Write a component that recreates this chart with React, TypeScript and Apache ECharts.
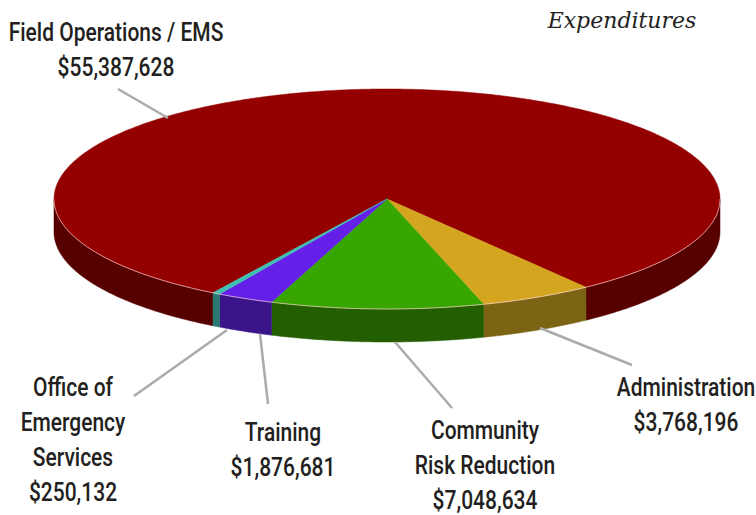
import React, { useEffect, useRef } from 'react';
import * as echarts from 'echarts';

// ---- data ----
const categories = [
  'Field Operations / EMS',
  'Administration',
  'Community Risk Reduction',
  'Training',
  'Office of Emergency Services',
];
const values = [55387628, 3768196, 7048634, 1876681, 250132];
const labelNameLines = [
  ['Field Operations / EMS'],
  ['Administration'],
  ['Community', 'Risk Reduction'],
  ['Training'],
  ['Office of', 'Emergency', 'Services'],
];
const titleText = 'Expenditures';

// ---- styles / layout ----
const topColors = ['#940000', '#D4A620', '#38A600', '#6420E8', '#3EC0B2'];
const sideColors = ['#560000', '#7C6414', '#235E00', '#3A1488', '#2A7A72'];
const CX = 387;
const CY = 199;
const RX = 333;
const RY = 110;
const DEPTH = 33;
const START_DEG = 121.5; // screen angle (clockwise) where the first slice starts
const labelPos = [
  { x: 116, y: 33 },
  { x: 686, y: 388 },
  { x: 485, y: 431 },
  { x: 283, y: 433 },
  { x: 73, y: 388 },
];
const leaderLines = [
  [118, 89, 168, 118],
  [540, 328, 632, 365],
  [395, 342, 452, 408],
  [260, 334, 268, 404],
  [227, 330, 134, 396],
];
const LINE_H = 35;

const fmt = (v: number) => '$' + v.toLocaleString('en-US');

function pt(deg: number, dy = 0): number[] {
  const r = (deg * Math.PI) / 180;
  return [CX + RX * Math.cos(r), CY + RY * Math.sin(r) + dy];
}

function arc(a0: number, a1: number, dy = 0): number[][] {
  const pts: number[][] = [];
  const n = Math.max(2, Math.ceil(Math.abs(a1 - a0) / 0.5));
  for (let k = 0; k <= n; k++) pts.push(pt(a0 + ((a1 - a0) * k) / n, dy));
  return pts;
}

export default function App() {
  const ref = useRef<HTMLDivElement>(null);
  useEffect(() => {
    document.body.style.margin = '0';
    if (!ref.current) return;
    const chart = echarts.init(ref.current, undefined, { renderer: 'svg' });
    const total = values.reduce((a, b) => a + b, 0);

    const graphics: any[] = [];
    graphics.push({
      type: 'text',
      x: 622,
      y: 20,
      style: {
        text: titleText,
        font: 'italic 22px "DejaVu Serif", serif',
        fill: '#222',
        textAlign: 'center',
        textVerticalAlign: 'middle',
      },
    });
    leaderLines.forEach((l) => {
      graphics.push({
        type: 'line',
        shape: { x1: l[0], y1: l[1], x2: l[2], y2: l[3] },
        style: { stroke: '#ABABAB', lineWidth: 2.5 },
        z: 10,
      });
    });
    values.forEach((v, i) => {
      const lines = [...labelNameLines[i], fmt(v)];
      lines.forEach((t, k) => {
        graphics.push({
          type: 'text',
          x: labelPos[i].x,
          y: labelPos[i].y + k * LINE_H,
          scaleX: 0.84,
          style: {
            text: t,
            font: '500 25px Roboto, sans-serif',
            fill: '#231F20',
            textAlign: 'center',
            textVerticalAlign: 'middle',
          },
          z: 10,
        });
      });
    });

    chart.setOption({
      animation: false,
      graphic: graphics,
      series: [
        {
          type: 'custom',
          coordinateSystem: 'none',
          data: values.map((v, i) => ({ value: v, name: categories[i] })),
          renderItem: (params: any, api: any) => {
            const i = params.dataIndex;
            let before = 0;
            for (let j = 0; j < i; j++) before += values[j];
            const v = api.value(0);
            const a0 = START_DEG + (before / total) * 360;
            const a1 = a0 + (v / total) * 360;
            const children: any[] = [];
            // side faces: only front half (0..180 mod 360)
            for (const base of [-360, 0, 360, 720]) {
              const s = Math.max(a0, base);
              const e = Math.min(a1, base + 180);
              if (e > s) {
                const top = arc(s, e);
                const bottom = arc(e, s, DEPTH);
                children.push({
                  type: 'polygon',
                  shape: { points: top.concat(bottom) },
                  style: { fill: sideColors[i], stroke: sideColors[i], lineWidth: 0.5 },
                  z2: 1,
                });
                children.push({
                  type: 'polyline',
                  shape: { points: top },
                  style: { stroke: 'rgba(255,210,210,0.7)', lineWidth: 1, fill: null },
                  z2: 3,
                });
              }
            }
            // top face
            children.push({
              type: 'polygon',
              shape: { points: [[CX, CY]].concat(arc(a0, a1)) },
              style: { fill: topColors[i], stroke: topColors[i], lineWidth: 0.5 },
              z2: 2,
            });
            return { type: 'group', children };
          },
        },
      ],
    });
    return () => chart.dispose();
  }, []);
  return <div ref={ref} style={{ width: 756, height: 515 }} />;
}
